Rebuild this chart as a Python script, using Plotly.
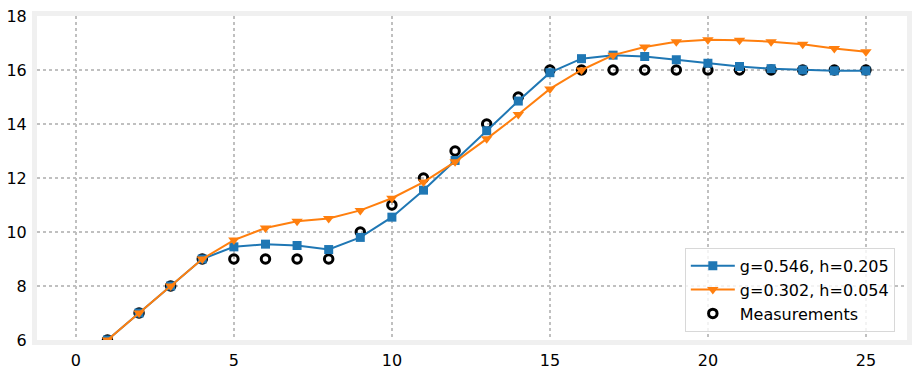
import plotly.graph_objects as go

x_vals = list(range(1, 26))
measurements = [6, 7, 8, 9, 9, 9, 9, 9, 10, 11, 12, 13, 14, 15, 16,
                16, 16, 16, 16, 16, 16, 16, 16, 16, 16]
fit_a = [6.0, 7.0, 8.0, 9.0, 9.45, 9.55, 9.5, 9.35, 9.8, 10.55, 11.55, 12.65,
         13.75, 14.85, 15.9, 16.42, 16.55, 16.5, 16.38, 16.25, 16.13, 16.05,
         16.0, 15.97, 15.97]
fit_b = [6.0, 7.0, 8.0, 9.0, 9.7, 10.15, 10.4, 10.5, 10.8, 11.25, 11.85, 12.6,
         13.45, 14.35, 15.3, 16.0, 16.55, 16.85, 17.05, 17.12, 17.1, 17.05,
         16.95, 16.8, 16.68]
label_a = "g=0.546, h=0.205"
label_b = "g=0.302, h=0.054"
label_m = "Measurements"
x_ticks = [0, 5, 10, 15, 20, 25]
y_ticks = [6, 8, 10, 12, 14, 16, 18]

fig = go.Figure()
fig.add_trace(go.Scatter(x=x_vals, y=measurements, mode="markers", name=label_m,
                         legendrank=3,
                         marker=dict(symbol="circle-open", size=8.5, color="black",
                                     line=dict(width=3, color="black"))))
fig.add_trace(go.Scatter(x=x_vals, y=fit_a, mode="lines+markers", name=label_a,
                         legendrank=1,
                         line=dict(color="#1f77b4", width=2),
                         marker=dict(symbol="square", size=9, color="#1f77b4")))
fig.add_trace(go.Scatter(x=x_vals, y=fit_b, mode="lines+markers", name=label_b,
                         legendrank=2,
                         line=dict(color="#ff7f0e", width=2),
                         marker=dict(symbol="triangle-down", size=10, color="#ff7f0e")))

axis_common = dict(showgrid=True, gridcolor="#c0c0c0", griddash="dot", gridwidth=2,
                   zeroline=False, showline=True, linecolor="#f0f0f0", linewidth=5,
                   mirror=True, ticks="", automargin=False,
                   tickfont=dict(family="DejaVu Sans", size=16, color="black"))
fig.update_xaxes(range=[-1.23, 26.3], tickvals=x_ticks, ticklabelstandoff=2, **axis_common)
fig.update_yaxes(range=[6, 18], tickvals=y_ticks, ticklabelstandoff=2, **axis_common)

fig.update_layout(
    template="none",
    width=916, height=369,
    margin=dict(l=37, r=9, t=16, b=29, pad=0),
    plot_bgcolor="white", paper_bgcolor="white",
    font=dict(family="DejaVu Sans", size=16, color="black"),
    legend=dict(x=0.986, y=0.025, xanchor="right", yanchor="bottom",
                bgcolor="rgba(255,255,255,0.8)", bordercolor="#d8d8d8", borderwidth=1,
                font=dict(family="DejaVu Sans", size=16, color="black"),
                tracegroupgap=0, itemwidth=44),
    showlegend=True,
)
# remove the default 8px page margin so the figure fills the window exactly
fig.write_html("out.html", config={"displayModeBar": False},
               post_script="document.body.style.margin='0';document.body.style.overflow='hidden';")
